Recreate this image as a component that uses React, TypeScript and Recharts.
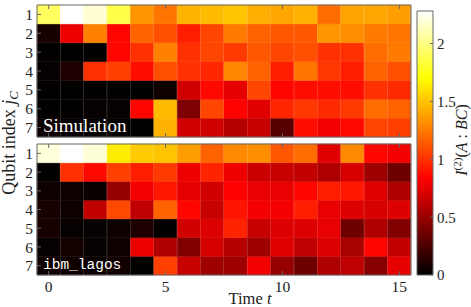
import { BarChart, Bar, XAxis, YAxis, Cell } from 'recharts';

const TIMES = [0, 1, 2, 3, 4, 5, 6, 7, 8, 9, 10, 11, 12, 13, 14, 15];
const QUBITS = [1, 2, 3, 4, 5, 6, 7];
const CBAR_TICKS = [0, 0.5, 1, 1.5, 2];
const VMAX = 2.28;

// Simulation, one array per qubit index j_C
const SIM_J1 = [1.92, 2.28, 2.18, 1.87, 1.34, 1.23, 1.45, 1.47, 1.5, 1.42, 1.4, 1.44, 1.2, 1.39, 1.4, 1.37];
const SIM_J2 = [0.08, 0.77, 1.27, 0.85, 1.17, 1.1, 0.93, 1.07, 1.25, 1.17, 1.13, 1.13, 1.34, 1.32, 1.25, 1.23];
const SIM_J3 = [0.01, 0.01, 0.01, 0.85, 1.0, 1.27, 1.0, 1.07, 1.03, 1.13, 1.07, 1.1, 1.0, 1.0, 1.2, 1.25];
const SIM_J4 = [0.02, 0.1, 1.0, 1.05, 0.88, 1.1, 1.0, 0.96, 1.29, 1.17, 0.93, 1.23, 1.02, 0.93, 1.17, 1.1];
const SIM_J5 = [0.01, 0.01, 0.01, 0.01, 0.01, 0.05, 0.68, 0.86, 0.75, 1.07, 0.85, 0.88, 0.88, 0.88, 1.0, 0.98];
const SIM_J6 = [0.01, 0.01, 0.02, 0.02, 0.85, 1.47, 0.41, 1.07, 0.84, 0.73, 0.96, 1.02, 0.98, 1.03, 1.2, 1.17];
const SIM_J7 = [0.04, 0.02, 0.01, 0.01, 0.01, 1.44, 0.68, 0.68, 0.59, 0.65, 0.28, 0.88, 0.8, 0.86, 1.07, 1.05];

// ibm_lagos hardware run
const LAGOS_J1 = [2.2, 2.28, 2.19, 1.64, 1.52, 1.5, 1.37, 1.17, 1.3, 1.32, 1.13, 1.2, 0.73, 1.3, 0.85, 0.8];
const LAGOS_J2 = [0.01, 1.0, 0.86, 1.05, 0.93, 1.03, 0.78, 0.95, 0.78, 0.67, 0.65, 0.63, 0.57, 0.7, 0.52, 0.36];
const LAGOS_J3 = [0.05, 0.04, 0.03, 0.49, 0.8, 0.91, 0.75, 0.68, 0.83, 0.76, 0.76, 0.85, 0.93, 0.91, 0.73, 0.57];
const LAGOS_J4 = [0.08, 0.04, 0.63, 1.08, 0.62, 1.17, 0.85, 0.65, 0.9, 0.8, 0.8, 0.93, 0.76, 0.72, 0.7, 0.72];
const LAGOS_J5 = [0.08, 0.02, 0.02, 0.04, 0.1, 0.01, 0.68, 0.72, 0.95, 0.65, 0.72, 0.72, 0.76, 0.36, 0.57, 0.42];
const LAGOS_J6 = [0.02, 0.07, 0.02, 0.04, 0.77, 0.57, 0.42, 0.7, 0.59, 0.52, 0.73, 0.62, 0.72, 0.55, 0.85, 0.63];
const LAGOS_J7 = [0.05, 0.05, 0.03, 0.06, 0.01, 1.05, 0.65, 0.52, 0.52, 0.8, 0.49, 0.36, 0.57, 0.62, 0.44, 0.75];

const SIM = [SIM_J1, SIM_J2, SIM_J3, SIM_J4, SIM_J5, SIM_J6, SIM_J7];
const LAGOS = [LAGOS_J1, LAGOS_J2, LAGOS_J3, LAGOS_J4, LAGOS_J5, LAGOS_J6, LAGOS_J7];

const FRAME = '#666';
const SERIF = '"Liberation Serif", "DejaVu Serif", serif';

const clamp = (v: number) => Math.max(0, Math.min(1, v));

// matplotlib "hot"
function hot(v: number) {
  const t = clamp(v / VMAX);
  const r = clamp(t / 0.365);
  const g = clamp((t - 0.365) / 0.381);
  const b = clamp((t - 0.746) / 0.254);
  return `rgb(${Math.round(r * 255)},${Math.round(g * 255)},${Math.round(b * 255)})`;
}

const rowPos = (q: number) => QUBITS.length + 0.5 - q;

const cellData = TIMES.map((t) => {
  const d: Record<string, number> = { t };
  QUBITS.forEach((q) => (d['q' + q] = 1));
  return d;
});

const LeftTick = (props: any) => {
  const { x, y, payload } = props;
  return (
    <g>
      <line x1={x} x2={x + 4} y1={y} y2={y} stroke={FRAME} />
      <text x={x - 4} y={y} dy="0.36em" textAnchor="end" fontFamily={SERIF} fontSize={15.5} fill="#222">
        {QUBITS.length + 0.5 - payload.value}
      </text>
    </g>
  );
};

const RightTick = (props: any) => (
  <line x1={props.x} x2={props.x - 4} y1={props.y} y2={props.y} stroke={FRAME} />
);

const TopTick = (props: any) => (
  <line x1={props.x} x2={props.x} y1={props.y} y2={props.y + 4} stroke={FRAME} />
);

const makeBottomTick = (showLabel: boolean) => (props: any) => {
  const { x, y, payload } = props;
  return (
    <g>
      <line x1={x} x2={x} y1={y} y2={y - 4} stroke={FRAME} />
      {showLabel && (
        <text x={x} y={y + 17} textAnchor="middle" fontFamily={SERIF} fontSize={15.5} fill="#222">
          {payload.value}
        </text>
      )}
    </g>
  );
};

const CbarTick = (props: any) => {
  const { x, y, payload } = props;
  return (
    <g>
      <line x1={x} x2={x - 3} y1={y} y2={y} stroke={FRAME} />
      <text x={x + 4} y={y} dy="0.36em" textAnchor="start" fontFamily={SERIF} fontSize={15} fill="#222">
        {payload.value}
      </text>
    </g>
  );
};

function Panel({ values, top, height, margin, bottomAxis, showLabels }: any) {
  return (
    <div style={{ position: 'absolute', left: 0, top }}>
      <BarChart width={471} height={height} data={cellData} margin={margin} barCategoryGap={0} barGap={0}>
        {[...QUBITS].reverse().map((q) => (
          <Bar key={q} dataKey={'q' + q} stackId="s" isAnimationActive={false}>
            {TIMES.map((t, i) => {
              const c = hot(values[q - 1][i]);
              return <Cell key={t} fill={c} stroke={c} strokeWidth={0.5} />;
            })}
          </Bar>
        ))}
        <XAxis dataKey="t" height={bottomAxis} interval={4} tickSize={0} tickMargin={0} tickLine={false}
          axisLine={{ stroke: FRAME }} tick={makeBottomTick(showLabels)} />
        <XAxis xAxisId="top" orientation="top" dataKey="t" height={1} interval={4} tickSize={0}
          tickMargin={0} tickLine={false} axisLine={{ stroke: FRAME }} tick={TopTick} />
        <YAxis type="number" domain={[0, QUBITS.length]} ticks={QUBITS.map(rowPos)} interval={0}
          width={30} tickSize={0} tickMargin={0} tickLine={false} axisLine={{ stroke: FRAME }} tick={LeftTick} />
        <YAxis yAxisId="r" orientation="right" type="number" domain={[0, QUBITS.length]}
          ticks={QUBITS.map(rowPos)} interval={0} width={31} tickSize={0} tickMargin={0} tickLine={false}
          axisLine={{ stroke: FRAME }} tick={RightTick} />
      </BarChart>
    </div>
  );
}

function ColorBar() {
  return (
    <div style={{ position: 'absolute', left: 400, top: 0 }}>
      <BarChart width={71} height={307} data={[{ k: 'cbar', v: VMAX }]}
        margin={{ top: 11, left: 17, right: 8, bottom: 32 }} barCategoryGap={0}>
        <defs>
          <linearGradient id="hotGrad" x1="0" y1="1" x2="0" y2="0">
            <stop offset="0" stopColor="#000000" />
            <stop offset="0.365" stopColor="#ff0000" />
            <stop offset="0.746" stopColor="#ffff00" />
            <stop offset="1" stopColor="#ffffff" />
          </linearGradient>
        </defs>
        <XAxis dataKey="k" hide />
        <Bar dataKey="v" fill="url(#hotGrad)" stroke={FRAME} strokeWidth={1} isAnimationActive={false} />
        <YAxis orientation="right" type="number" domain={[0, VMAX]} ticks={CBAR_TICKS} interval={0}
          width={30} tickSize={0} tickMargin={0} tickLine={false} axisLine={false} tick={CbarTick} />
      </BarChart>
    </div>
  );
}

export default function App() {
  return (
    <div style={{ position: 'absolute', left: 0, top: 0, width: 471, height: 307, background: '#fff' }}>
      <Panel values={SIM} top={0} height={140} margin={{ top: 4, left: 7, right: 29, bottom: 0 }}
        bottomAxis={3} showLabels={false} />
      <Panel values={LAGOS} top={140} height={167} margin={{ top: 3, left: 7, right: 29, bottom: 2 }}
        bottomAxis={30} showLabels={true} />
      <ColorBar />
      <svg width={471} height={307} style={{ position: 'absolute', left: 0, top: 0, pointerEvents: 'none' }}>
        <text x={43} y={132} fontFamily={SERIF} fontSize={19} fill="#fff">Simulation</text>
        <text x={43} y={269} fontFamily='"Liberation Mono", "DejaVu Sans Mono", monospace' fontSize={14.5} fill="#fff">ibm_lagos</text>
        <text x={250} y={304} textAnchor="middle" fontFamily={SERIF} fontSize={16.5} fill="#222">
          Time <tspan fontStyle="italic">t</tspan>
        </text>
        <text x={10} y={143} transform="rotate(-90 10 143)" textAnchor="middle" dy="0.3em" fontFamily={SERIF} fontSize={18} fill="#222">
          Qubit index <tspan fontStyle="italic">j</tspan>
          <tspan fontStyle="italic" fontSize={13} dy={3}>C</tspan>
        </text>
        <text x={462} y={140} transform="rotate(-90 462 140)" textAnchor="middle" dy="0.3em" fontFamily={SERIF} fontSize={16} fill="#222">
          <tspan fontStyle="italic">I</tspan>
          <tspan fontSize={11} dy={-6}>(2)</tspan>
          <tspan dy={6}>(</tspan>
          <tspan fontStyle="italic">A</tspan>
          <tspan> : </tspan>
          <tspan fontStyle="italic">BC</tspan>
          <tspan>)</tspan>
        </text>
      </svg>
    </div>
  );
}
